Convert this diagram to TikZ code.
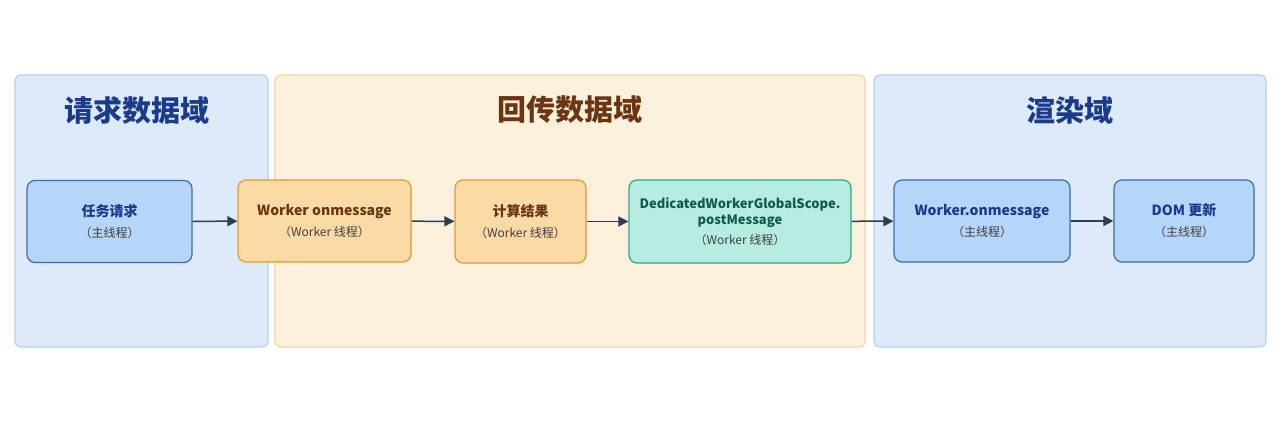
\documentclass[tikz,border=0pt]{standalone}
\usepackage{fontspec}
\setmainfont{Noto Sans CJK SC}
\usetikzlibrary{arrows.meta}
\definecolor{bdfill}{HTML}{DCEAFA}\definecolor{bdline}{HTML}{B3D2F1}
\definecolor{odfill}{HTML}{FDF0DD}\definecolor{odline}{HTML}{F5D69C}
\definecolor{bfill}{HTML}{B5D5F9}\definecolor{bline}{HTML}{3A6DB6}
\definecolor{ofill}{HTML}{FBDAA6}\definecolor{oline}{HTML}{E09B34}
\definecolor{tfill}{HTML}{B6ECE1}\definecolor{tline}{HTML}{2CA58B}
\definecolor{btxt}{HTML}{1B3A8C}\definecolor{otxt}{HTML}{6B3512}\definecolor{ttxt}{HTML}{0E5C50}
\definecolor{arr}{HTML}{2C3E50}
\tikzset{x=1pt,y=-1pt,
 dom/.style={rounded corners=6pt,line width=1.2pt},
 box/.style={rounded corners=8pt,line width=1.2pt,align=center,font=\fontsize{14}{17}\selectfont\bfseries},
 title/.style={font=\fontsize{29}{34}\selectfont\bfseries},
 ar/.style={-{Triangle[length=10pt,width=10pt]},line width=1.5pt,draw=arr}}
\newcommand{\sub}[1]{\\[4pt]{\fontsize{12}{14}\selectfont\mdseries\color{black!75}#1}}
\begin{document}
\begin{tikzpicture}
\useasboundingbox[fill=white] (0,0) rectangle (1280,427);
\draw[dom,fill=bdfill,draw=bdline] (15,75) rectangle (268,347);
\draw[dom,fill=odfill,draw=odline] (275,75) rectangle (865,347);
\draw[dom,fill=bdfill,draw=bdline] (874,75) rectangle (1266,347);
\node[title,text=btxt] (t1) at (137,110) {请求数据域};
\node[title,text=otxt] (t2) at (570,110) {回传数据域};
\node[title,text=btxt] (t3) at (1070,110) {渲染域};
\node[box,fill=bfill,draw=bline,minimum width=165pt,minimum height=82pt,text=btxt] (n1) at (109.5,221.5) {任务请求\sub{（主线程）}};
\node[box,fill=ofill,draw=oline,minimum width=173pt,minimum height=82pt,text=otxt] (n2) at (324.5,221) {Worker onmessage\sub{（Worker 线程）}};
\node[box,fill=ofill,draw=oline,minimum width=131pt,minimum height=83pt,text=otxt] (n3) at (520.5,221.5) {计算结果\sub{（Worker 线程）}};
\node[box,fill=tfill,draw=tline,minimum width=222pt,minimum height=83pt,text=ttxt,font=\fontsize{13}{16}\selectfont\bfseries] (n4) at (740,221.5) {DedicatedWorkerGlobalScope.\\postMessage\sub{（Worker 线程）}};
\node[box,fill=bfill,draw=bline,minimum width=176pt,minimum height=82pt,text=btxt] (n5) at (982,221) {Worker.onmessage\sub{（主线程）}};
\node[box,fill=bfill,draw=bline,minimum width=140pt,minimum height=82pt,text=btxt] (n6) at (1184,221) {DOM 更新\sub{（主线程）}};
\draw[ar] (n1) -- (n2);
\draw[ar] (n2) -- (n3);
\draw[ar] (n3) -- (n4);
\draw[ar] (n4) -- (n5);
\draw[ar] (n5) -- (n6);
\end{tikzpicture}
\end{document}
